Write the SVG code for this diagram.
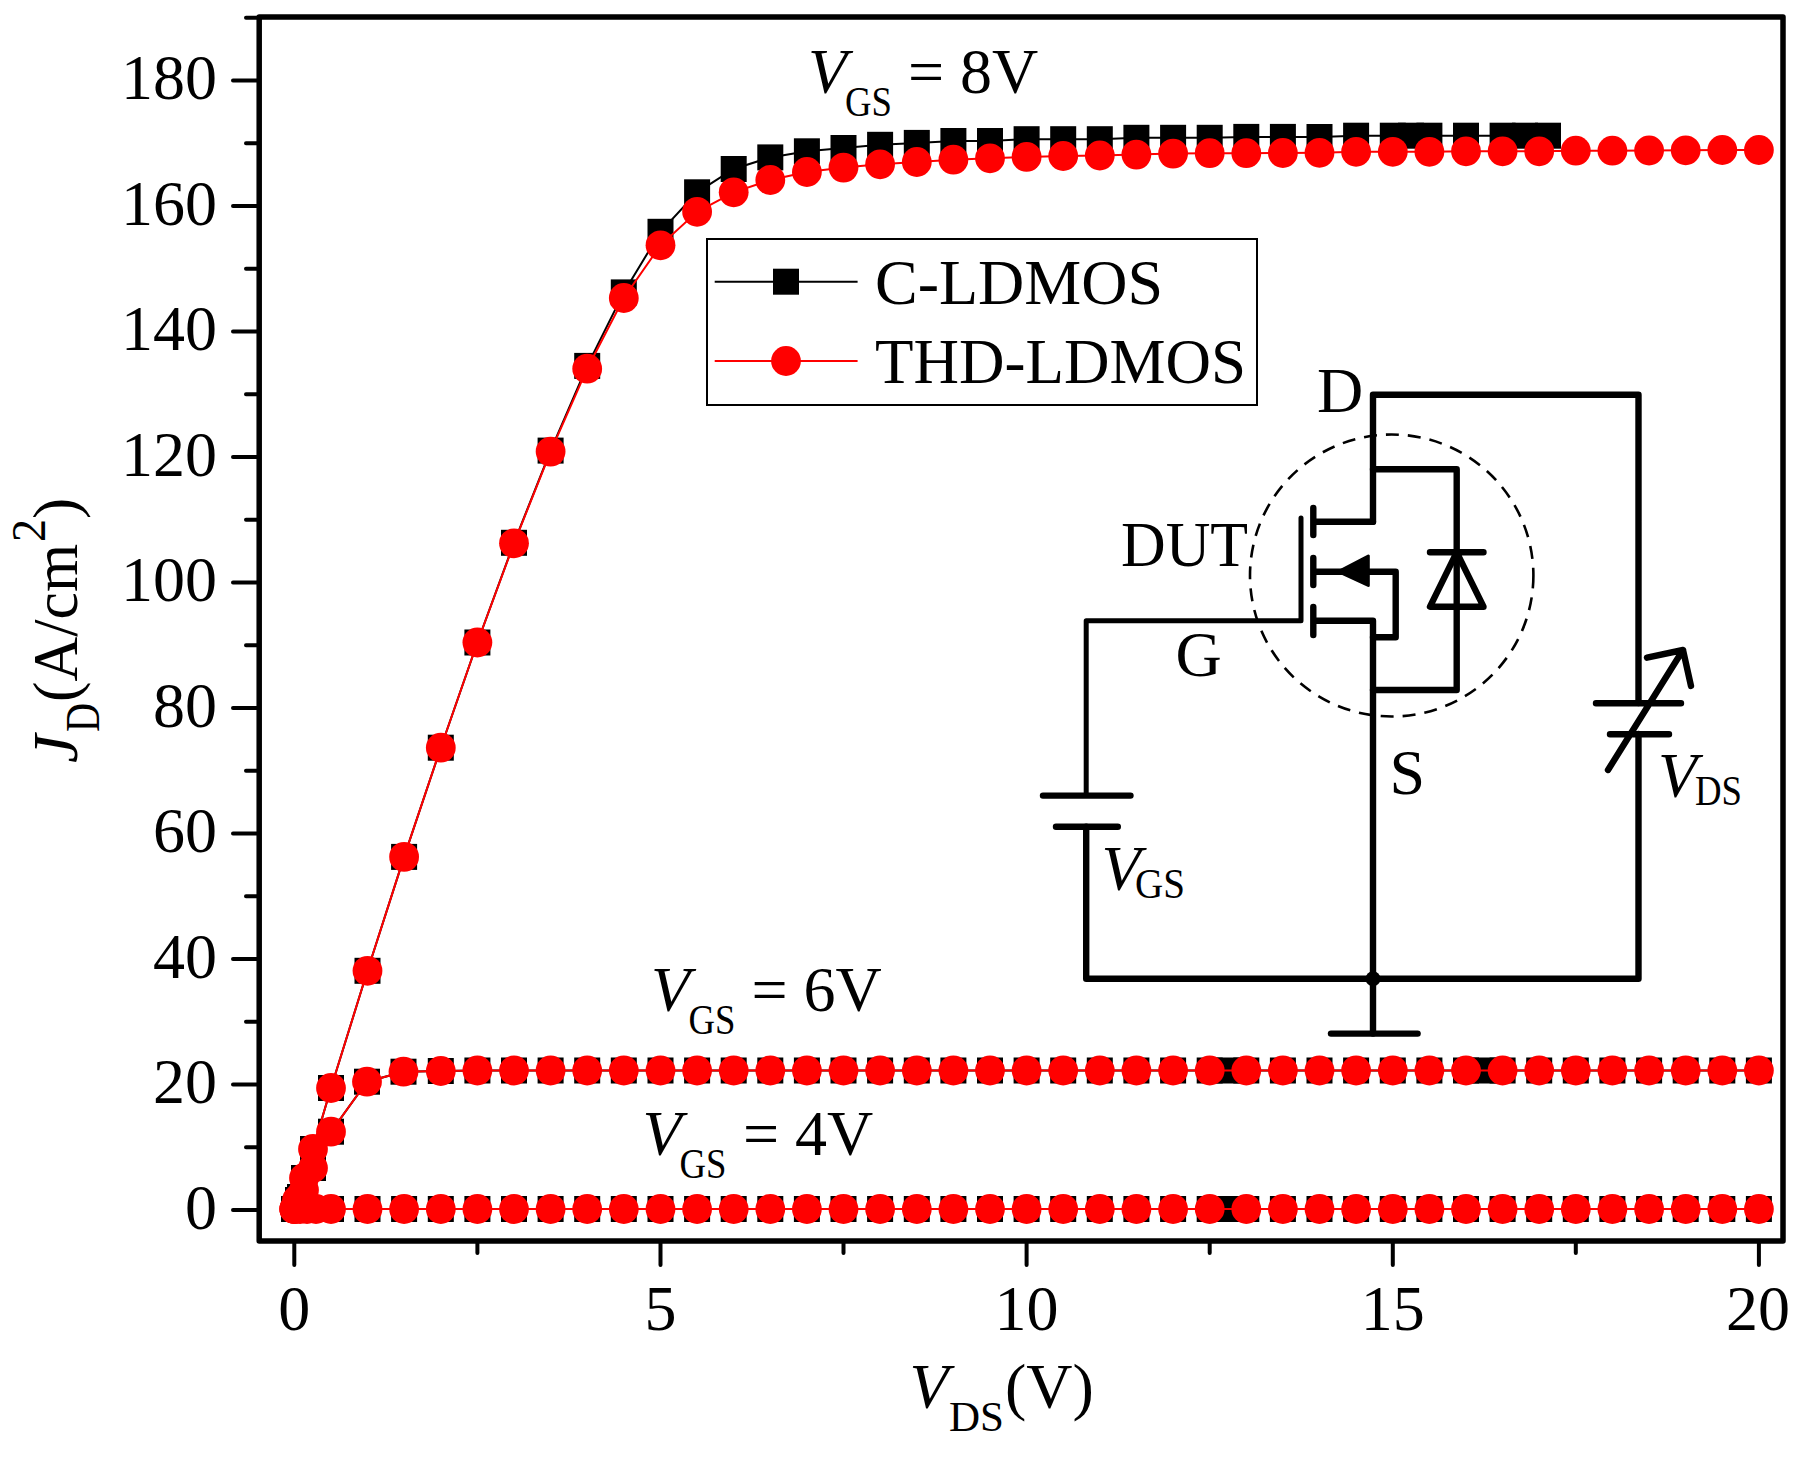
<svg xmlns="http://www.w3.org/2000/svg" width="1804" height="1459" viewBox="0 0 1804 1459">
<style>
text{font-family:"Liberation Serif","Times New Roman",serif;font-size:64px;fill:#000}
.i{font-style:italic}
.s{font-size:42px}
.e{text-anchor:end}
.m{text-anchor:middle}
.tick{stroke:#000;stroke-width:4;fill:none;stroke-linecap:round}
.bk{fill:none;stroke:#000;stroke-width:2;marker-start:url(#sq);marker-mid:url(#sq);marker-end:url(#sq)}
.rd{fill:none;stroke:#f00;stroke-width:2;marker-start:url(#ci);marker-mid:url(#ci);marker-end:url(#ci)}
.w{fill:none;stroke:#000;stroke-width:6.4;stroke-linecap:round;stroke-linejoin:round}
.f{fill:none;stroke:#000;stroke-width:5.5;stroke-linejoin:round}
</style>
<defs>
<marker id="sq" markerUnits="userSpaceOnUse" markerWidth="30" markerHeight="30" refX="15" refY="15" orient="0"><rect x="2" y="2" width="26" height="26" fill="#000"/></marker>
<marker id="ci" markerUnits="userSpaceOnUse" markerWidth="32" markerHeight="32" refX="16" refY="16" orient="0"><circle cx="16" cy="16" r="14.9" fill="#f00"/></marker>
</defs>
<rect width="1804" height="1459" fill="#fff"/>
<g id="axes">
<rect class="f" x="259.2" y="17" width="1523.8" height="1224"/>
<path class="tick" d="M233 1210H259M233 1084.5H259M233 959H259M233 833.5H259M233 708H259M233 582.5H259M233 457H259M233 331.5H259M233 206H259M233 80.5H259"/>
<path class="tick" d="M246 1147.2H259M246 1021.8H259M246 896.2H259M246 770.8H259M246 645.2H259M246 519.8H259M246 394.2H259M246 268.8H259M246 143.2H259M246 17.7H259"/>
<path class="tick" d="M294.3 1241V1265M660.5 1241V1265M1026.6 1241V1265M1392.8 1241V1265M1758.9 1241V1265"/>
<path class="tick" d="M477.4 1241V1253M843.5 1241V1253M1209.7 1241V1253M1575.8 1241V1253"/>
<g>
<text class="e" x="217" y="1228.5">0</text><text class="e" x="217" y="1103">20</text><text class="e" x="217" y="977.5">40</text><text class="e" x="217" y="852">60</text><text class="e" x="217" y="726.5">80</text><text class="e" x="217" y="601">100</text><text class="e" x="217" y="475.5">120</text><text class="e" x="217" y="350">140</text><text class="e" x="217" y="224.5">160</text><text class="e" x="217" y="99">180</text>
</g>
<text class="m" x="294.3" y="1330">0</text><text class="m" x="660.5" y="1330">5</text><text class="m" x="1026.6" y="1330">10</text><text class="m" x="1392.8" y="1330">15</text><text class="m" x="1758" y="1330">20</text>
<g id="x-title"><text class="i" x="909.5" y="1408">V</text><text class="s" x="949" y="1431" textLength="55" lengthAdjust="spacingAndGlyphs">DS</text><text x="1005" y="1408">(V)</text></g>
<g id="y-title">
<text class="i" transform="translate(76.7,763) rotate(-90)">J</text>
<text style="font-size:48px" textLength="29" lengthAdjust="spacingAndGlyphs" transform="translate(99,732) rotate(-90)">D</text>
<text transform="translate(76.7,702) rotate(-90)" textLength="158" lengthAdjust="spacingAndGlyphs">(A/cm</text>
<text style="font-size:48px" textLength="23" lengthAdjust="spacingAndGlyphs" transform="translate(45,542) rotate(-90)">2</text>
<text transform="translate(76.7,519) rotate(-90)">)</text>
</g>
</g>
<g id="series-c-ldmos">
<polyline class="bk" points="294.3,1209 300,1209 307,1209 316,1209 331,1209 367.5,1209 404.1,1209 440.8,1209 477.4,1209 514,1209 550.6,1209 587.2,1209 623.8,1209 660.5,1209 697.1,1209 733.7,1209 770.3,1209 806.9,1209 843.5,1209 880.1,1209 916.8,1209 953.4,1209 990,1209 1026.6,1209 1063.2,1209 1099.8,1209 1136.4,1209 1173.1,1209 1209.7,1209 1228,1209 1246.3,1209 1282.9,1209 1319.5,1209 1356.1,1209 1392.8,1209 1429.4,1209 1466,1209 1502.6,1209 1539.2,1209 1575.8,1209 1612.4,1209 1649.1,1209 1685.7,1209 1722.3,1209 1758.9,1209"/>
<polyline class="bk" points="294.3,1209 298,1200 304,1190 313,1168 331,1131.7 367,1081.7 403.5,1071.7 440.8,1071 477.4,1070.5 514,1070.5 550.6,1070.5 587.2,1070.5 623.8,1070.5 660.5,1070.5 697.1,1070.5 733.7,1070.5 770.3,1070.5 806.9,1070.5 843.5,1070.5 880.1,1070.5 916.8,1070.5 953.4,1070.5 990,1070.5 1026.6,1070.5 1063.2,1070.5 1099.8,1070.5 1136.4,1070.5 1173.1,1070.5 1209.7,1070.5 1228,1070.5 1246.3,1070.5 1282.9,1070.5 1319.5,1070.5 1356.1,1070.5 1392.8,1070.5 1429.4,1070.5 1466,1070.5 1484.3,1070.5 1502.6,1070.5 1539.2,1070.5 1575.8,1070.5 1612.4,1070.5 1649.1,1070.5 1685.7,1070.5 1722.3,1070.5 1758.9,1070.5"/>
<polyline class="bk" points="294.3,1209 300,1197 304,1178 313,1149 331,1088 367.5,970.8 404.1,856.9 440.8,747.7 477.4,642.5 514,542.8 550.6,450.6 587.2,365.9 623.8,292.4 660.5,231.8 697.1,192.3 733.7,169 770.3,157.4 806.9,151.3 843.5,148 880.1,144.8 916.8,142.9 953.4,141 990,141 1026.6,139.2 1063.2,139.2 1099.8,139.2 1136.4,137.8 1173.1,137.8 1209.7,137.8 1246.3,136.9 1282.9,136.9 1319.5,137 1356.1,135.7 1392.8,135.7 1411,135.7 1429.4,135.7 1466,135.7 1502.6,135.7 1525,135.7 1548,135.7"/>
</g>
<g id="series-thd-ldmos">
<polyline class="rd" points="294.3,1209 300,1209 307,1209 316,1209 331,1209 367.5,1209 404.1,1209 440.8,1209 477.4,1209 514,1209 550.6,1209 587.2,1209 623.8,1209 660.5,1209 697.1,1209 733.7,1209 770.3,1209 806.9,1209 843.5,1209 880.1,1209 916.8,1209 953.4,1209 990,1209 1026.6,1209 1063.2,1209 1099.8,1209 1136.4,1209 1173.1,1209 1209.7,1209 1246.3,1209 1282.9,1209 1319.5,1209 1356.1,1209 1392.8,1209 1429.4,1209 1466,1209 1502.6,1209 1539.2,1209 1575.8,1209 1612.4,1209 1649.1,1209 1685.7,1209 1722.3,1209 1758.9,1209"/>
<polyline class="rd" points="294.3,1209 297,1200 304,1190 313,1168 331,1131.7 367,1081.7 403.5,1071.7 440.8,1071 477.4,1070.5 514,1070.5 550.6,1070.5 587.2,1070.5 623.8,1070.5 660.5,1070.5 697.1,1070.5 733.7,1070.5 770.3,1070.5 806.9,1070.5 843.5,1070.5 880.1,1070.5 916.8,1070.5 953.4,1070.5 990,1070.5 1026.6,1070.5 1063.2,1070.5 1099.8,1070.5 1136.4,1070.5 1173.1,1070.5 1209.7,1070.5 1246.3,1070.5 1282.9,1070.5 1319.5,1070.5 1356.1,1070.5 1392.8,1070.5 1429.4,1070.5 1466,1070.5 1502.6,1070.5 1539.2,1070.5 1575.8,1070.5 1612.4,1070.5 1649.1,1070.5 1685.7,1070.5 1722.3,1070.5 1758.9,1070.5"/>
<polyline class="rd" points="294.3,1209 300,1197 304,1178 313,1149 331,1088 367.5,970.8 404.1,856.9 440.8,747.7 477.4,642.5 514,543.3 550.6,451.6 587.2,368.7 623.8,298 660.5,245.3 697.1,211.8 733.7,192.3 770.3,180 806.9,172 843.5,167.6 880.1,164.3 916.8,162 953.4,159.7 990,158.3 1026.6,156.9 1063.2,156 1099.8,155.5 1136.4,154.6 1173.1,153.6 1209.7,153.2 1246.3,153.2 1282.9,153 1319.5,152.8 1356.1,151.8 1392.8,151.8 1429.4,151.8 1466,151.3 1502.6,151.3 1539.2,151.3 1575.8,150.7 1612.4,150.7 1649.1,150.5 1685.7,150.3 1722.3,150 1758.9,150"/>
</g>
<g id="legend">
<rect x="707" y="239" width="550" height="166" fill="none" stroke="#000" stroke-width="2"/>
<polyline class="bk" style="marker-mid:url(#sq);marker-start:none;marker-end:none" points="714.7,281.7 786,281.7 857.6,281.7"/>
<polyline class="rd" style="marker-mid:url(#ci);marker-start:none;marker-end:none" points="714.7,361 786,361 857.6,361"/>
<text x="875" y="303.5">C-LDMOS</text>
<text x="875" y="382.7" textLength="371" lengthAdjust="spacingAndGlyphs">THD-LDMOS</text>
</g>
<g id="label-vgs-8"><text class="i" x="808" y="93">V</text><text class="s" x="845" y="115.5" textLength="47" lengthAdjust="spacingAndGlyphs">GS</text><text x="908" y="93">= 8V</text></g>
<g id="label-vgs-6"><text class="i" x="651" y="1011">V</text><text class="s" x="688.5" y="1033.5" textLength="47" lengthAdjust="spacingAndGlyphs">GS</text><text x="751.5" y="1011">= 6V</text></g>
<g id="label-vgs-4"><text class="i" x="642.5" y="1154.5">V</text><text class="s" x="679.5" y="1177.5" textLength="47" lengthAdjust="spacingAndGlyphs">GS</text><text x="743" y="1154.5">= 4V</text></g>
<g id="connectors">
<path class="w" d="M1373 521.7V394.8H1638.5V703"/>
<path class="w" d="M1638.5 734V978.7H1086.2V826.7"/>
<path class="w" d="M1086.2 795.6V620.7H1301V518" style="stroke-width:5"/>
<path class="w" d="M1373 521.7H1315"/>
<path class="w" d="M1315 620.7H1373V1033.6"/>
<path class="w" d="M1315 571.7H1395.7V637.3H1373"/>
<path class="w" d="M1373 469.3H1456.7V690H1373"/>
</g>
<g id="dut-circle"><ellipse cx="1391.7" cy="575.5" rx="141.7" ry="141" fill="none" stroke="#000" stroke-width="2.6" stroke-dasharray="13 9"/></g>
<g id="mosfet">
<path class="w" d="M1313.3 508V535M1313.3 558V585M1313.3 607V635"/>
<polygon points="1338.5,571.7 1368.3,556 1368.3,585.5" fill="#000" stroke="#000" stroke-width="3" stroke-linejoin="round"/>
</g>
<g id="diode">
<path class="w" d="M1430 552.3H1483.5M1456.7 552.3L1430 606.7H1483.5Z"/>
</g>
<g id="source-vgs"><path class="w" d="M1043 795.6H1130.5M1056 826.7H1117.8"/></g>
<g id="source-vds"><path class="w" d="M1596 703.3H1681M1610 734.3H1669M1608 770L1683 650M1647 657.7L1683 650L1691 686"/></g>
<g id="ground"><path class="w" d="M1331 1033.6H1417.6"/><circle cx="1373" cy="978.7" r="7.5" fill="#000"/></g>
<g id="circuit-labels">
<text x="1317" y="412">D</text>
<text x="1121" y="565.6" textLength="127" lengthAdjust="spacingAndGlyphs">DUT</text>
<text x="1175.5" y="676.4">G</text>
<text x="1389.5" y="794">S</text>
<text class="i" x="1658" y="796.7">V</text><text class="s" x="1695" y="805" textLength="47" lengthAdjust="spacingAndGlyphs">DS</text>
<text class="i" x="1101.5" y="890">V</text><text class="s" x="1135" y="898" textLength="50" lengthAdjust="spacingAndGlyphs">GS</text>
</g>
</svg>
